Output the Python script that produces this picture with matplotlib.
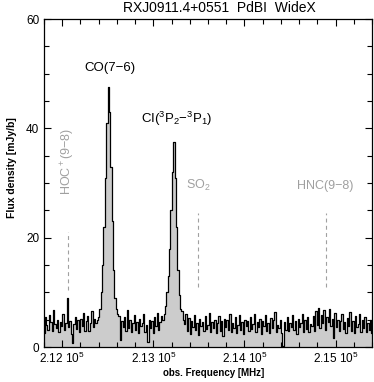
import numpy as np
import matplotlib
matplotlib.use("Agg")
import matplotlib.pyplot as plt
from matplotlib.ticker import MultipleLocator, FuncFormatter

plt.rcParams['font.family'] = ['Liberation Sans', 'DejaVu Sans']
plt.rcParams['mathtext.fontset'] = 'custom'
plt.rcParams['mathtext.rm'] = 'Liberation Sans'
plt.rcParams['mathtext.it'] = 'Liberation Sans:italic'
plt.rcParams['mathtext.bf'] = 'Liberation Sans:bold'

# spectrum: channels of 15 MHz starting at 211800 MHz
freq_start = 211800.0
chan_width = 15.0
flux = [
    2.5, 5.5, 4.0, 3.2, 5.8, 4.5, 3.0, 6.8, 4.2, 3.5,
    5.0, 2.8, 4.6, 3.9, 6.0, 3.1, 4.4, 9.0, 3.6, 4.8,
    2.4, 0.8, 4.2, 5.5, 3.3, 4.9, 2.7, 5.2, 3.8, 6.2,
    3.0, 4.7, 5.6, 2.9, 4.4, 6.5, 3.6, 5.1, 4.3,
    # CO(7-6)
    5.0, 5.5, 7.0, 10.0, 15.0, 22.0, 31.0, 41.0, 47.5, 43.0,
    33.0, 23.0, 14.0, 9.0, 7.0, 6.0,
    # between the lines
    5.6, 1.2, 4.8, 3.6, 5.5, 2.9, 6.8, 3.4, 4.9, 2.7,
    4.3, 5.8, 3.1, 4.6, 2.5, 5.2, 3.8, 4.4, 6.1, 2.8,
    4.0, 1.0, 5.0, 3.5, 4.7, 2.6, 5.4, 3.9, 6.3, 3.2,
    4.6, 5.7,
    # CI(2-1)
    5.0, 6.0, 7.5, 10.0, 13.0, 18.0, 25.0, 32.0, 37.5, 31.0,
    22.0, 14.0, 9.5, 7.0, 6.5, 5.0,
    # upper band
    4.2, 6.0, 3.0, 5.3, 2.4, 4.8, 3.6, 5.9, 3.1, 4.4,
    2.2, 5.1, 3.8, 4.6, 2.9, 5.7, 3.3, 4.1, 6.2, 2.7,
    4.5, 3.4, 5.0, 2.5, 4.3, 5.6, 3.0, 4.7, 2.1, 5.2,
    3.7, 4.9, 3.2, 6.0, 2.8, 4.4, 3.5, 5.4, 2.6, 4.1,
    5.8, 3.1, 4.6, 2.4, 5.0, 3.9, 4.8, 2.9, 5.5, 3.3,
    4.2, 6.1, 2.7, 4.5, 3.6, 5.2, 2.3, 4.7, 3.8, 5.9,
    3.0, 4.4, 2.6, 5.3, 3.4, 4.9, 6.4, 2.8, 4.1, 3.5,
    5.0, 2.5, 0.1, 4.6, 3.2, 5.5, 2.9, 4.3, 3.7, 5.8,
    3.1, 4.8, 2.4, 5.1, 3.6, 4.4, 6.0, 2.7, 4.9, 3.3,
    5.4, 2.8, 4.2, 3.9, 5.7, 3.0, 6.6, 4.1, 7.2, 3.5,
    5.9, 4.3, 6.8, 3.2, 5.5, 4.6, 6.9, 3.8, 5.2, 1.6,
    6.3, 3.7, 5.0, 2.9, 4.7, 6.1, 3.3, 4.5, 2.6, 5.3,
    3.9, 6.4, 3.0, 4.8, 2.5, 5.6, 3.6, 4.2, 6.0, 2.8,
    4.9, 3.4, 5.5, 2.7, 4.4, 3.1, 5.0, 2.6,
]
freq = freq_start + chan_width * np.arange(len(flux))

# lines that are expected but not detected
dashed_names = ["HOC$^+$(9\u22128)", "SO$_2$", "HNC(9\u22128)"]
dashed_freq = [212065, 213495, 214890]
dashed_ymin = [10.5, 11.0, 11.0]
dashed_ymax = [21.0, 24.5, 24.5]

W, H = 374, 382
fig = plt.figure(figsize=(W / 100, H / 100), dpi=100)
ax = fig.add_axes([44 / W, 1 - 347 / H, 328 / W, 328 / H])

ax.fill_between(freq, flux, 0, step='mid', color='#cccccc', lw=0)
ax.step(freq, flux, where='mid', color='black', lw=0.9)

grey = '#a0a0a0'
for f, y0, y1 in zip(dashed_freq, dashed_ymin, dashed_ymax):
    ax.plot([f, f], [y0, y1], ls=(0, (3.5, 3)), color=grey, lw=0.8)

ax.text(212065, 34, dashed_names[0], rotation=90, ha='center', va='center',
        color=grey, fontsize=9)
ax.text(213495, 29.5, dashed_names[1], ha='center', va='center',
        color=grey, fontsize=9)
ax.text(214890, 29.5, dashed_names[2], ha='center', va='center',
        color=grey, fontsize=9)

ax.text(212520, 51.0, "CO(7\u22126)", ha='center', va='center', fontsize=9.5)
ax.text(213260, 41.8, "CI($^3$P$_2$\u2212$^3$P$_1$)", ha='center', va='center',
        fontsize=9.5)

ax.set_xlim(211800, 215400)
ax.set_ylim(0, 60)
ax.xaxis.set_major_locator(MultipleLocator(1000))
ax.xaxis.set_minor_locator(MultipleLocator(200))
ax.yaxis.set_major_locator(MultipleLocator(20))
ax.yaxis.set_minor_locator(MultipleLocator(5))
ax.xaxis.set_major_formatter(FuncFormatter(lambda v, p: f"{v / 1e5:.2f} 10$^5$"))
ax.tick_params(which='both', direction='in', top=True, right=True, labelsize=8.5,
               width=0.8)
ax.tick_params(which='major', length=5)
ax.tick_params(which='minor', length=3.5)
ax.tick_params(axis='x', pad=3)
for s in ax.spines.values():
    s.set_linewidth(0.9)

fig.text(214 / W, 1 - 373 / H, "obs. Frequency [MHz]", ha='center', va='center',
         fontsize=7, fontweight='bold')
fig.text(12.5 / W, 1 - 168 / H, "Flux density [mJy/b]", ha='center', va='center',
         rotation=90, fontsize=7.5, fontweight='bold')
fig.text(219 / W, 1 - 7.5 / H, "RXJ0911.4+0551  PdBI  WideX", ha='center',
         va='center', fontsize=10)

fig.savefig("out.png", dpi=100)
